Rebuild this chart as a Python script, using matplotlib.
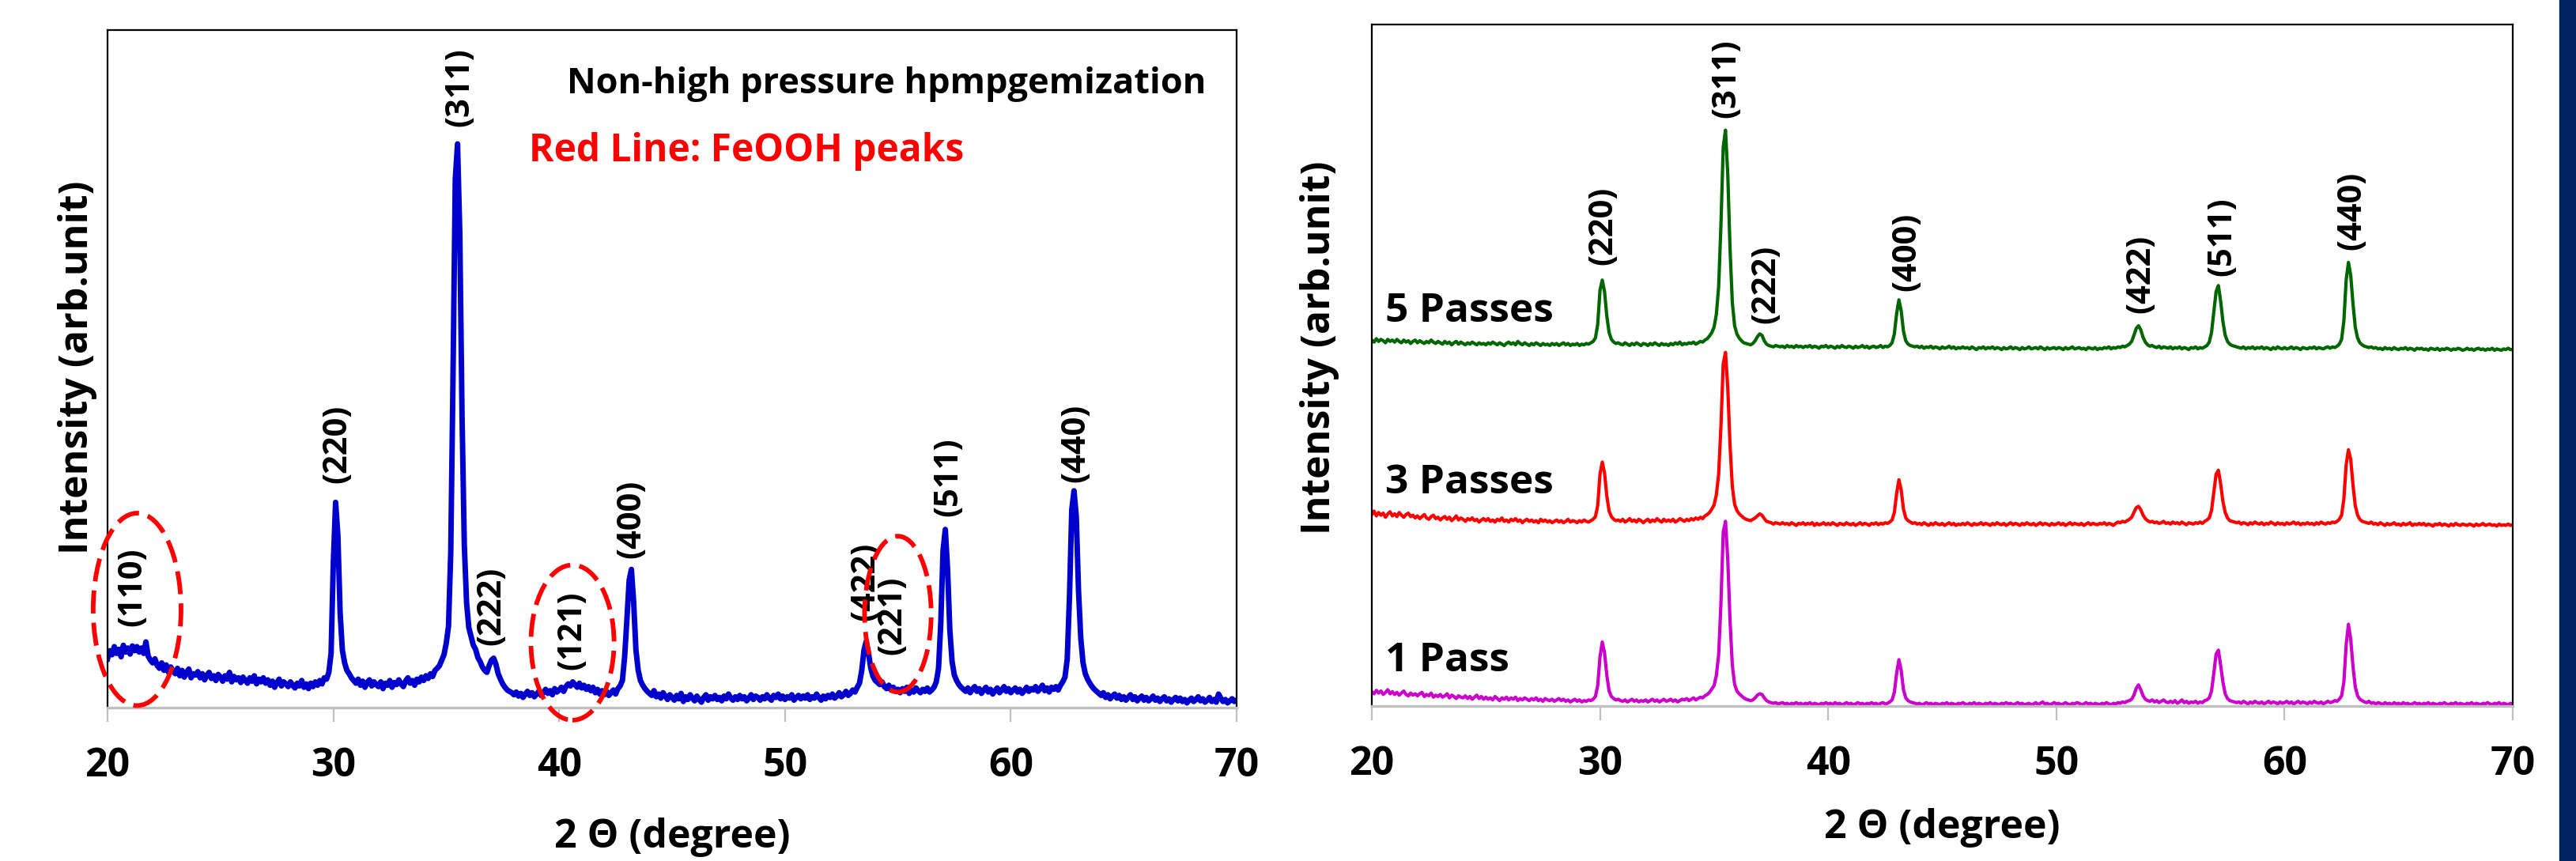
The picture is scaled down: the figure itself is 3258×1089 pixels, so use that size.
import numpy as np
import matplotlib.pyplot as plt
from matplotlib import font_manager
from matplotlib.patches import Ellipse, Rectangle

# pick a sans family that really has a bold face installed
bold_fams = {f.name for f in font_manager.fontManager.ttflist
             if f.weight in ('bold', 700, 'heavy', 800) or str(f.weight) in ('700', '800')}
fam = 'DejaVu Sans'
for cand in ['Open Sans', 'Noto Sans', 'Lato', 'Roboto', 'Liberation Sans']:
    if cand in bold_fams:
        fam = cand
        break
plt.rcParams['font.family'] = [fam, 'DejaVu Sans']
plt.rcParams['font.weight'] = 'bold'

# XRD scans, 2theta 20.0 .. 70.0 step 0.1 (one row = one degree)
non_hph = [
    72, 84, 78, 90, 80, 86, 75, 92, 82, 88,
    79, 91, 84, 90, 82, 88, 80, 97, 76, 70,
    66, 72, 62, 58, 66, 55, 63, 52, 60, 54,
    50, 58, 47, 55, 45, 52, 57, 44, 50, 48,
    53, 44, 50, 41, 48, 52, 43, 47, 40, 49,
    45, 39, 47, 42, 52, 38, 46, 41, 44, 37,
    45, 40, 36, 44, 39, 47, 35, 42, 38, 44,
    36, 41, 33, 39, 30, 37, 42, 32, 38, 35,
    31, 38, 33, 29, 36, 32, 40, 30, 35, 28,
    36, 31, 38, 33, 40, 35, 44, 42, 52, 80,
    215, 303, 255, 140, 85, 66, 55, 50, 44, 40,
    36, 42, 33, 39, 30, 37, 41, 32, 38, 34,
    31, 38, 28, 36, 33, 40, 30, 37, 34, 41,
    35, 31, 39, 44, 36, 40, 33, 42, 38, 45,
    40, 47, 43, 50, 46, 55, 58, 62, 70, 78,
    95, 120, 230, 490, 780, 832, 700, 430, 240, 155,
    118, 105, 92, 86, 74, 68, 60, 55, 52, 62,
    70, 73, 64, 50, 42, 35, 30, 26, 24, 22,
    19, 23, 17, 21, 15, 20, 24, 18, 22, 16,
    20, 24, 18, 22, 27, 21, 25, 19, 28, 23,
    26, 30, 24, 31, 35, 32, 38, 34, 30, 36,
    29, 33, 27, 31, 25, 30, 22, 27, 20, 25,
    19, 24, 18, 22, 26, 20, 28, 32, 40, 75,
    130, 188, 204, 155, 85, 55, 40, 33, 28, 24,
    21, 18, 25, 16, 20, 14, 22, 17, 12, 19,
    15, 11, 18, 13, 21, 9, 16, 12, 19, 14,
    10, 17, 12, 8, 15, 19, 11, 16, 13, 18,
    12, 15, 10, 17, 13, 20, 14, 11, 16, 12,
    18, 13, 16, 10, 14, 19, 12, 17, 15, 11,
    16, 13, 19, 14, 11, 18, 15, 20, 13, 17,
    12, 16, 14, 19, 11, 15, 18, 13, 17, 14,
    19, 12, 16, 14, 20, 15, 11, 17, 13, 18,
    15, 20, 14, 17, 22, 16, 19, 24, 18, 21,
    26, 23, 30, 36, 55, 85, 98, 80, 58, 46,
    40, 37, 34, 38, 31, 28, 33, 26, 30, 24,
    27, 22, 28, 24, 30, 21, 26, 23, 29, 25,
    22, 27, 24, 29, 23, 26, 30, 38, 58, 125,
    232, 263, 205, 115, 68, 48, 40, 34, 30, 27,
    24, 29, 22, 27, 31, 24, 28, 21, 26, 30,
    23, 27, 20, 25, 29, 22, 26, 31, 24, 28,
    22, 26, 29, 23, 27, 21, 25, 30, 24, 28,
    26, 31, 24, 28, 33, 25, 29, 23, 30, 27,
    31, 26, 33, 38, 45, 72, 165, 292, 320, 282,
    172, 102, 66, 50, 42, 36, 31, 27, 24, 21,
    18, 22, 15, 19, 13, 17, 20, 14, 18, 12,
    16, 11, 15, 19, 12, 16, 10, 14, 17, 11,
    15, 10, 13, 17, 11, 14, 9, 13, 16, 10,
    13, 8, 12, 15, 10, 14, 9, 12, 7, 11,
    14, 9, 12, 16, 10, 13, 8, 11, 15, 9,
    12, 8, 20, 14, 9, 12, 7, 10, 13, 9,
    11]

pass_1 = [
    21, 18, 23, 19, 22, 17, 20, 24, 18, 21,
    17, 20, 16, 19, 22, 17, 15, 19, 16, 18,
    15, 18, 20, 14, 17, 15, 19, 13, 16, 14,
    17, 13, 15, 18, 12, 16, 14, 11, 15, 13,
    12, 15, 11, 14, 10, 13, 16, 11, 14, 10,
    13, 10, 12, 9, 14, 11, 8, 12, 10, 13,
    9, 12, 10, 13, 8, 11, 9, 12, 10, 8,
    11, 9, 12, 8, 10, 7, 11, 9, 8, 10,
    7, 9, 11, 8, 10, 7, 9, 6, 8, 10,
    7, 9, 6, 8, 7, 9, 8, 10, 14, 30,
    72, 94, 78, 45, 22, 14, 11, 9, 10, 8,
    7, 9, 6, 8, 10, 7, 9, 6, 8, 7,
    9, 6, 8, 10, 7, 9, 6, 8, 10, 7,
    8, 10, 7, 9, 6, 8, 10, 9, 11, 8,
    10, 12, 9, 11, 13, 12, 15, 17, 20, 25,
    30, 45, 75, 150, 255, 271, 215, 125, 60, 32,
    22, 18, 15, 12, 10, 9, 8, 9, 12, 16,
    18, 17, 12, 8, 6, 5, 4, 5, 3, 4,
    5, 3, 4, 2, 4, 3, 5, 3, 4, 2,
    4, 3, 5, 2, 4, 3, 2, 4, 3, 5,
    3, 4, 2, 5, 3, 4, 2, 3, 5, 3,
    4, 2, 3, 5, 3, 4, 2, 4, 3, 5,
    3, 4, 2, 4, 5, 3, 4, 6, 9, 20,
    48, 68, 52, 24, 12, 8, 6, 5, 4, 3,
    4, 2, 3, 5, 3, 4, 2, 4, 3, 2,
    4, 3, 5, 2, 4, 3, 2, 4, 3, 5,
    3, 2, 4, 3, 5, 2, 4, 3, 2, 4,
    3, 5, 2, 4, 3, 2, 4, 3, 5, 3,
    4, 2, 3, 5, 3, 4, 2, 3, 4, 2,
    3, 5, 2, 4, 6, 3, 4, 2, 3, 5,
    3, 4, 2, 3, 5, 3, 2, 4, 3, 5,
    4, 2, 3, 5, 3, 4, 2, 4, 3, 2,
    4, 3, 5, 3, 2, 4, 3, 5, 4, 6,
    5, 7, 8, 10, 16, 26, 31, 24, 15, 10,
    8, 7, 9, 6, 8, 5, 7, 9, 6, 5,
    7, 5, 8, 4, 6, 9, 5, 7, 4, 6,
    5, 7, 4, 6, 5, 8, 9, 12, 22, 48,
    76, 82, 60, 35, 18, 11, 8, 7, 6, 5,
    6, 4, 7, 5, 3, 6, 4, 7, 5, 4,
    6, 3, 5, 7, 4, 6, 5, 3, 6, 4,
    5, 7, 4, 6, 3, 5, 7, 4, 6, 5,
    3, 6, 4, 7, 5, 4, 6, 3, 5, 7,
    5, 6, 8, 7, 10, 15, 35, 90, 120, 98,
    58, 28, 15, 10, 8, 6, 5, 7, 4, 5,
    3, 5, 4, 2, 5, 3, 4, 2, 5, 3,
    4, 2, 5, 3, 4, 2, 3, 5, 3, 4,
    2, 4, 3, 5, 2, 4, 3, 2, 4, 3,
    5, 3, 2, 4, 3, 5, 2, 4, 3, 2,
    4, 3, 5, 2, 4, 3, 2, 4, 3, 5,
    3, 2, 4, 3, 5, 2, 4, 3, 2, 4,
    3]

pass_3 = [
    19, 24, 17, 22, 18, 21, 15, 20, 23, 17,
    20, 16, 22, 18, 15, 19, 21, 16, 18, 14,
    17, 13, 16, 19, 14, 12, 16, 18, 13, 15,
    11, 14, 16, 12, 15, 10, 13, 17, 11, 14,
    12, 9, 13, 11, 14, 10, 12, 8, 11, 13,
    10, 13, 9, 11, 8, 12, 10, 14, 9, 11,
    8, 12, 10, 13, 9, 11, 7, 10, 12, 9,
    11, 8, 10, 7, 12, 9, 11, 8, 10, 7,
    9, 11, 8, 10, 7, 9, 12, 8, 10, 9,
    7, 10, 8, 11, 9, 8, 10, 12, 16, 32,
    78, 96, 80, 46, 24, 16, 12, 10, 11, 9,
    12, 8, 10, 13, 9, 11, 8, 12, 10, 7,
    10, 12, 8, 11, 9, 13, 10, 8, 12, 9,
    11, 9, 12, 8, 10, 13, 11, 9, 12, 10,
    13, 11, 14, 12, 15, 13, 17, 19, 22, 27,
    33, 48, 78, 148, 240, 257, 205, 120, 60, 34,
    25, 20, 17, 14, 12, 11, 10, 12, 14, 17,
    20, 18, 13, 9, 8, 7, 5, 7, 6, 5,
    7, 5, 6, 4, 7, 5, 3, 6, 5, 7,
    4, 6, 5, 7, 3, 6, 4, 5, 7, 4,
    6, 4, 7, 5, 3, 6, 5, 4, 7, 5,
    4, 6, 3, 5, 7, 4, 6, 5, 3, 6,
    5, 7, 4, 6, 5, 7, 6, 8, 11, 22,
    50, 70, 55, 27, 14, 10, 8, 6, 7, 5,
    6, 4, 7, 5, 3, 6, 4, 7, 5, 4,
    6, 3, 5, 7, 4, 6, 3, 5, 4, 6,
    4, 7, 5, 3, 6, 4, 5, 7, 4, 6,
    5, 3, 6, 4, 7, 5, 4, 6, 3, 5,
    7, 4, 6, 5, 3, 6, 4, 7, 5, 4,
    6, 3, 5, 7, 4, 6, 5, 3, 6, 4,
    5, 7, 4, 6, 3, 5, 7, 4, 6, 5,
    4, 6, 3, 5, 7, 4, 6, 5, 4, 6,
    5, 7, 4, 6, 5, 3, 6, 8, 7, 9,
    8, 10, 12, 15, 22, 29, 31, 26, 18, 13,
    10, 8, 9, 7, 8, 6, 7, 9, 6, 7,
    5, 8, 6, 7, 5, 8, 6, 4, 7, 6,
    5, 7, 6, 8, 6, 9, 11, 14, 25, 52,
    78, 84, 64, 38, 22, 14, 10, 9, 8, 7,
    8, 5, 7, 6, 4, 7, 5, 8, 6, 5,
    7, 4, 6, 5, 8, 6, 4, 7, 5, 6,
    4, 7, 5, 6, 8, 5, 7, 4, 6, 5,
    7, 5, 6, 4, 7, 5, 8, 6, 5, 7,
    6, 8, 7, 9, 12, 18, 42, 92, 114, 100,
    62, 32, 18, 12, 9, 8, 7, 6, 8, 5,
    6, 4, 7, 5, 3, 6, 4, 5, 7, 4,
    5, 3, 6, 4, 5, 7, 3, 5, 4, 6,
    4, 6, 3, 5, 4, 2, 5, 4, 6, 3,
    5, 4, 2, 5, 3, 6, 4, 3, 5, 4,
    3, 5, 4, 2, 5, 3, 4, 6, 3, 4,
    5, 3, 4, 2, 5, 3, 4, 3, 5, 3,
    4]

pass_5 = [
    17, 14, 19, 15, 18, 16, 13, 18, 15, 17,
    14, 18, 15, 13, 17, 14, 16, 12, 15, 17,
    13, 16, 14, 12, 15, 13, 17, 14, 12, 15,
    13, 11, 15, 12, 14, 10, 13, 15, 11, 14,
    12, 10, 13, 11, 14, 12, 10, 13, 11, 12,
    10, 13, 11, 14, 12, 10, 13, 11, 9, 12,
    14, 11, 13, 10, 15, 12, 10, 13, 11, 9,
    12, 10, 13, 11, 9, 12, 10, 11, 9, 12,
    10, 12, 9, 11, 13, 10, 12, 9, 11, 10,
    12, 9, 11, 10, 12, 11, 13, 15, 20, 40,
    90, 105, 88, 52, 28, 18, 14, 12, 13, 11,
    10, 13, 11, 9, 12, 10, 13, 11, 9, 12,
    11, 9, 12, 10, 13, 11, 9, 12, 10, 11,
    9, 12, 10, 13, 11, 14, 10, 12, 11, 13,
    12, 14, 11, 13, 15, 14, 17, 19, 23, 28,
    36, 55, 95, 185, 300, 325, 260, 150, 72, 38,
    26, 20, 16, 13, 12, 11, 10, 12, 16, 22,
    26, 24, 16, 11, 9, 8, 7, 9, 8, 7,
    8, 6, 9, 7, 8, 6, 9, 7, 8, 6,
    8, 7, 9, 6, 8, 7, 5, 8, 7, 9,
    6, 8, 7, 5, 8, 6, 9, 7, 6, 8,
    7, 5, 8, 6, 7, 9, 6, 8, 5, 7,
    8, 6, 7, 9, 6, 8, 7, 9, 13, 26,
    56, 76, 60, 30, 16, 11, 9, 8, 7, 8,
    6, 8, 5, 7, 6, 8, 5, 7, 6, 4,
    7, 5, 6, 8, 5, 7, 4, 6, 5, 7,
    5, 6, 4, 7, 5, 3, 6, 5, 7, 4,
    6, 5, 7, 4, 6, 5, 3, 6, 4, 5,
    7, 4, 6, 5, 3, 6, 4, 5, 7, 4,
    5, 6, 4, 7, 5, 3, 6, 4, 5, 6,
    4, 6, 5, 3, 6, 4, 5, 7, 4, 5,
    6, 4, 5, 3, 6, 5, 4, 6, 3, 5,
    4, 6, 5, 7, 4, 6, 5, 7, 6, 8,
    7, 9, 11, 15, 24, 34, 38, 32, 21, 14,
    10, 8, 9, 7, 6, 8, 5, 7, 6, 5,
    7, 4, 6, 5, 7, 4, 6, 5, 3, 6,
    5, 7, 4, 6, 5, 7, 9, 14, 28, 58,
    88, 97, 74, 44, 24, 15, 11, 9, 8, 7,
    6, 5, 7, 4, 6, 5, 7, 4, 6, 5,
    7, 4, 6, 5, 3, 6, 4, 7, 5, 4,
    6, 4, 5, 7, 4, 6, 5, 3, 6, 5,
    4, 6, 5, 7, 4, 6, 5, 4, 6, 7,
    5, 7, 6, 8, 11, 18, 45, 105, 131, 112,
    70, 36, 20, 13, 10, 8, 7, 6, 7, 5,
    6, 4, 5, 3, 6, 4, 5, 3, 6, 4,
    3, 5, 4, 6, 3, 5, 4, 2, 5, 4,
    5, 3, 4, 2, 5, 4, 3, 5, 2, 4,
    3, 5, 4, 2, 4, 3, 5, 4, 2, 3,
    5, 3, 4, 2, 4, 5, 3, 4, 2, 4,
    3, 5, 2, 4, 3, 2, 4, 3, 5, 3,
    3]

two_theta = np.round(20 + 0.1 * np.arange(len(non_hph)), 1)

left_hkl = ['(110)', '(220)', '(311)', '(222)', '(121)', '(400)', '(422)', '(221)', '(511)', '(440)']
left_hkl_x = [21.1, 30.2, 35.6, 37.0, 40.6, 43.2, 53.58, 54.75, 57.25, 62.9]
left_hkl_y = [120, 331, 858, 92, 56, 220, 128, 78, 282, 332]

# FeOOH peaks circled: centre x, centre y, width, height
feooh_x = [21.31, 40.59, 55.0]
feooh_y = [145, 96, 138]
feooh_w = [3.89, 3.68, 2.95]
feooh_h = [284, 229, 230]

right_hkl = ['(220)', '(311)', '(222)', '(400)', '(422)', '(511)', '(440)']
right_hkl_x = [30.15, 35.55, 37.3, 43.45, 53.7, 57.28, 62.97]
right_hkl_y = [647, 863, 562, 609, 577, 631, 669]

passes = ['1 Pass', '3 Passes', '5 Passes']
pass_data = [pass_1, pass_3, pass_5]
pass_colors = ['#CC00CC', '#FF0000', '#006600']
pass_offset = [0, 262, 520]
pass_label_y = [51, 312, 564]

fig = plt.figure(figsize=(32.58, 10.89), dpi=100)
ax1 = fig.add_axes([0.04174, 0.17815, 0.43831, 0.78696])
ax2 = fig.add_axes([0.53253, 0.17998, 0.44291, 0.79155])

for ax in (ax1, ax2):
    ax.set_xlim(20, 70)
    ax.set_ylim(0, 1000)
    ax.set_xticks([20, 30, 40, 50, 60, 70])
    ax.set_yticks([])
    ax.tick_params(axis='x', direction='out', length=13, width=1.6, color='#BFBFBF',
                   labelsize=36, pad=22)
    for lab in ax.get_xticklabels():
        lab.set_fontweight('bold')
    for s in ('left', 'top', 'right'):
        ax.spines[s].set_color('black')
        ax.spines[s].set_linewidth(1.6)
    ax.spines['bottom'].set_color('#BFBFBF')
    ax.spines['bottom'].set_linewidth(2.4)

ax1.plot(two_theta, non_hph, color='#0000CC', lw=5)
for t, x, y in zip(left_hkl, left_hkl_x, left_hkl_y):
    ax1.text(x, y, t, rotation=90, ha='center', va='bottom', fontsize=30, fontweight='bold')
for x, y, w, h in zip(feooh_x, feooh_y, feooh_w, feooh_h):
    ax1.add_patch(Ellipse((x, y), w, h, fill=False, edgecolor='#FF0000', lw=4.2,
                          linestyle=(0, (5, 2)), clip_on=False, zorder=5))
ax1.text(40.34, 907, 'Non-high pressure hpmpgemization', fontsize=32.5, fontweight='bold',
         va='baseline', ha='left')
ax1.text(38.66, 806, 'Red Line: FeOOH peaks', fontsize=34.5, fontweight='bold',
         color='#FF0000', va='baseline', ha='left')

for name, d, c, off, ly in zip(passes, pass_data, pass_colors, pass_offset, pass_label_y):
    ax2.plot(two_theta, np.array(d) + off, color=c, lw=3)
    ax2.text(20.6, ly, name, fontsize=37, fontweight='bold', va='baseline', ha='left')
for t, x, y in zip(right_hkl, right_hkl_x, right_hkl_y):
    ax2.text(x, y, t, rotation=90, ha='center', va='bottom', fontsize=30, fontweight='bold')

fig.text(98 / 3258, 1 - 465 / 1089, 'Intensity (arb.unit)', rotation=90, ha='center',
         va='center', fontsize=36, fontweight='bold')
fig.text(1669 / 3258, 1 - 440 / 1089, 'Intensity (arb.unit)', rotation=90, ha='center',
         va='center', fontsize=36, fontweight='bold')
fig.text(850 / 3258, 1 - 1059 / 1089, '2 \u0398 (degree)', ha='center', va='center',
         fontsize=36, fontweight='bold')
fig.text(2456 / 3258, 1 - 1047 / 1089, '2 \u0398 (degree)', ha='center', va='center',
         fontsize=36, fontweight='bold')

fig.add_artist(Rectangle((3237 / 3258, 0), 21 / 3258, 1, transform=fig.transFigure,
                         color='#002060'))

fig.savefig('out.png', dpi=100)
